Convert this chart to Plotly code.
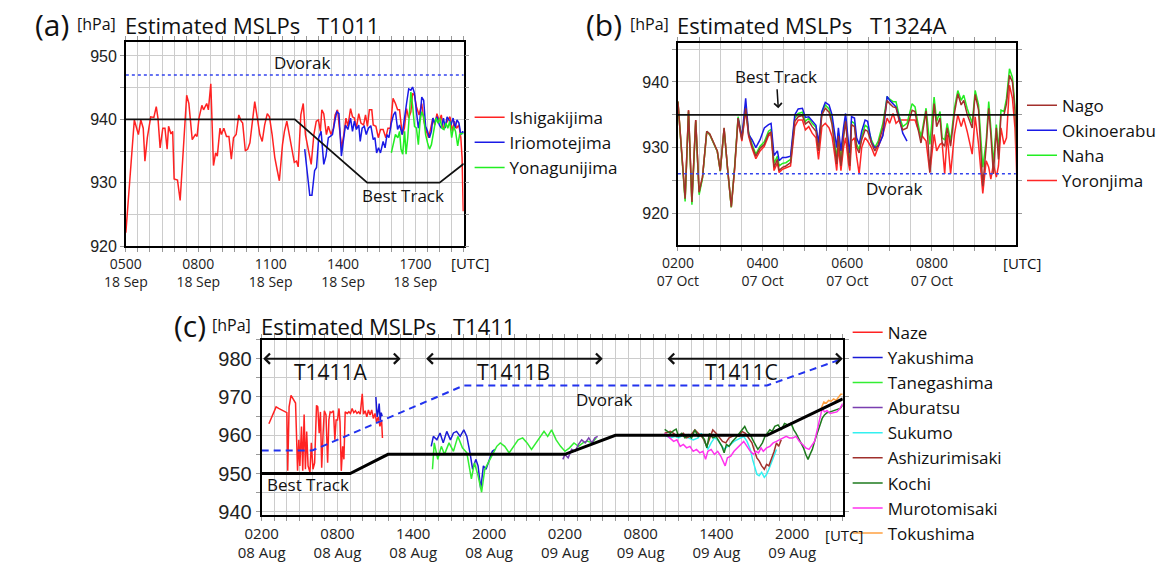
import pandas as pd
import plotly.graph_objects as go

W, H = 1164, 570
A_BASE = "2010-09-18 00:00"   # hours of day, 18 Sep
B_BASE = "2013-10-07 00:00"   # hours of day, 07 Oct
C_BASE = "2014-08-08 02:00"   # hours since 0200 08 Aug

# ---------------- (a) T1011 ----------------
a_ishigaki_h = [5.00,5.18,5.35,5.52,5.62,5.72,5.79,5.89,6.03,6.16,6.26,6.33,6.42,6.53,6.62,6.71,6.77,6.87,6.94,7.00,
                7.14,7.25,7.38,7.52,7.61,7.75,7.88,7.95,8.03,8.15,8.22,8.35,8.42,8.52,8.63,8.72,8.79,8.90,8.96,9.06,
                9.17,9.27,9.37,9.46,9.57,9.68,9.78,9.84,9.95,10.05,10.14,10.25,10.34,10.45,10.55,10.65,10.75,10.86,10.95,11.06,
                11.17,11.26,11.36,11.49,11.57,11.67,11.76,11.87,11.98,12.07,12.14,12.25,12.35,12.44,12.55,12.68,12.79,12.89,12.98,13.06,
                13.12,13.20,13.31,13.39,13.50,13.60,13.67,13.77,13.85,13.94,14.04,14.12,14.20,14.31,14.39,14.47,14.55,14.65,14.74,14.85,
                14.93,15.01,15.09,15.19,15.25,15.36,15.46,15.55,15.66,15.77,15.86,15.96,16.07,16.17,16.26,16.34,16.45,16.54,16.63,16.72,
                16.81,16.88,16.96,17.04,17.15,17.26,17.35,17.45,17.55,17.64,17.72,17.80,17.89,17.99,18.07,18.16,18.26,18.34,18.43,18.53,
                18.61,18.70,18.80,18.88,18.93,18.98]
a_ishigaki_v = [922.1,931.9,939.9,937.6,939.9,938.6,933.4,937.1,940.4,940.3,942.0,940.2,935.5,938.6,938.6,935.3,938.9,937.7,938.1,930.6,
                930.4,927.2,935.5,943.8,942.5,936.8,937.6,937.3,940.2,942.2,941.5,942.5,941.5,945.6,932.7,934.7,934.2,938.6,937.6,938.6,
                937.3,937.3,933.7,937.1,937.6,940.7,939.7,939.4,935.0,935.3,936.3,939.7,942.8,940.2,937.6,936.5,939.1,940.9,940.4,937.6,
                934.0,932.2,930.3,936.0,938.1,939.7,937.8,935.5,933.2,933.4,932.5,940.7,942.5,937.6,935.3,932.9,937.6,939.7,939.9,938.1,
                941.5,940.9,937.6,938.9,937.6,938.6,940.7,941.5,938.6,935.5,937.8,940.2,938.9,941.7,940.4,940.2,938.6,940.9,939.4,939.1,
                940.7,938.9,941.5,941.5,939.1,938.9,937.1,938.4,938.4,937.1,938.6,938.6,943.3,942.5,941.5,941.5,937.6,938.6,941.7,940.2,
                941.2,944.1,943.8,942.0,940.7,942.5,939.7,938.1,937.1,938.6,940.2,939.1,940.9,939.7,940.7,938.4,939.4,939.9,940.4,938.1,
                939.7,938.6,939.1,937.1,934.0,925.5]
a_iriomote_h = [12.41,12.52,12.62,12.71,12.82,12.90,12.99,13.09,13.20,13.29,13.39,13.47,13.56,13.66,13.74,13.83,13.93,14.01,14.10,14.20,
                14.31,14.39,14.47,14.55,14.65,14.71,14.79,14.88,14.96,15.05,15.15,15.25,15.32,15.39,15.47,15.55,15.66,15.74,15.82,15.90,
                16.00,16.09,16.17,16.26,16.34,16.45,16.54,16.63,16.72,16.81,16.88,16.96,17.04,17.12,17.19,17.26,17.34,17.42,17.50,17.58,
                17.66,17.72,17.80,17.89,17.99,18.07,18.16,18.23,18.31,18.39,18.47,18.56,18.64,18.72,18.80,18.88,18.96,18.99]
a_iriomote_v = [935.3,930.9,928.0,928.0,931.9,932.4,937.1,938.1,932.9,934.2,937.1,937.3,937.6,939.7,941.2,940.9,934.2,936.5,939.1,938.4,
                940.2,938.1,939.7,938.4,939.1,936.5,938.6,938.9,937.6,938.6,939.0,936.8,937.1,934.7,935.5,934.7,936.5,935.5,937.6,937.1,
                939.4,940.7,941.2,938.4,939.1,937.6,940.4,942.5,944.8,944.6,945.1,944.1,941.2,938.6,940.2,943.5,943.0,938.9,938.1,937.1,
                938.1,940.2,939.4,940.4,939.1,938.6,940.2,938.6,940.4,939.9,939.1,940.2,938.6,939.9,939.4,937.6,938.1,937.8]
a_yonaguni_h = [16.00,16.09,16.17,16.27,16.34,16.40,16.47,16.55,16.61,16.68,16.74,16.81,16.88,16.96,17.04,17.12,17.19,17.26,17.34,17.42,
                17.50,17.58,17.66,17.76,17.85,17.93,18.01,18.10,18.18,18.26,18.34,18.42,18.50,18.58,18.66,18.75,18.83,18.91,18.99]
a_yonaguni_v = [934.7,936.5,937.6,937.1,938.1,935.3,934.5,938.1,934.5,937.1,941.2,944.3,942.2,938.9,938.6,936.0,939.7,941.2,940.4,937.6,
                936.3,935.3,936.0,938.6,940.2,939.4,940.2,938.6,938.4,939.4,938.6,939.7,937.1,938.9,938.1,935.8,937.6,937.8,937.7]
a_best_h = [5, 12, 15, 18, 19]
a_best_v = [940, 940, 930, 930, 933]
a_dvorak_h = [5, 19]
a_dvorak_v = [947, 947]

# ---------------- (b) T1324A ----------------
b_hours = [2.00,2.17,2.25,2.33,2.42,2.50,2.58,2.68,2.75,2.85,2.93,3.00,3.09,3.17,3.26,3.34,3.42,3.51,3.60,3.67,
           3.75,3.84,3.94,4.04,4.14,4.20,4.27,4.35,4.39,4.47,4.55,4.66,4.76,4.84,4.94,5.01,5.09,5.17,5.26,5.32,
           5.40,5.48,5.57,5.64,5.70,5.75,5.79,5.85,5.91,5.96,6.03,6.06,6.10,6.17,6.22,6.28,6.34,6.42,6.48,6.57,
           6.65,6.73,6.84,6.94,7.00,7.08,7.15,7.23,7.31,7.41,7.53,7.60,7.66,7.74,7.86,7.95,8.05,8.11,8.19,8.24,
           8.30,8.36,8.44,8.53,8.61,8.69,8.75,8.83,8.95,9.02,9.10,9.20,9.28,9.34,9.39,9.45,9.52,9.57,9.63,9.70,
           9.76,9.83,9.90,9.96,10.00]
b_nago = [937.0,922.2,935.7,921.7,934.2,923.2,925.5,932.5,932.1,930.7,929.5,926.5,933.0,927.0,921.0,927.0,934.5,931.2,936.0,932.0,
          930.2,928.7,929.9,930.5,932.1,932.4,927.0,928.2,926.5,927.0,927.2,927.7,934.0,934.7,934.9,933.6,934.0,933.2,932.5,929.5,
          935.0,936.0,935.4,933.5,930.5,927.5,931.8,927.2,931.5,934.0,928.7,927.2,933.5,933.2,930.0,929.2,931.2,932.7,932.5,930.7,
          929.5,930.5,933.0,937.2,936.7,936.2,936.1,934.0,932.7,933.0,935.7,935.5,933.2,930.7,935.6,926.2,936.7,933.2,934.5,930.7,
          930.2,933.0,930.2,935.2,938.2,936.5,937.2,935.1,933.0,938.1,935.7,924.1,930.2,936.0,932.0,926.0,933.0,928.2,935.0,935.0,
          936.7,941.0,940.0,935.7,929.7]
b_naha = [937.0,921.8,935.5,921.3,934.0,922.8,925.3,932.5,932.0,930.6,929.4,926.4,932.9,926.9,920.9,927.2,934.7,931.5,936.3,932.3,
          930.5,929.0,930.2,930.9,932.5,932.8,927.6,928.7,927.2,927.6,927.7,928.2,934.5,935.2,935.4,934.0,934.5,933.7,933.1,930.0,
          935.4,936.5,935.9,934.0,931.0,928.2,932.2,928.0,932.0,934.5,929.5,928.0,934.0,933.7,930.5,929.7,931.7,933.4,933.1,931.2,
          930.0,931.0,933.7,937.7,937.4,937.0,937.0,934.7,933.2,933.7,936.7,936.2,934.0,931.5,936.0,930.5,937.7,934.0,935.5,931.5,
          931.2,933.7,931.0,936.0,938.7,937.2,938.0,936.0,933.7,938.7,936.5,927.0,931.0,937.0,933.0,927.5,933.5,929.5,935.7,935.5,
          937.5,942.0,940.7,936.5,930.5]
b_yoron = [937.0,922.2,935.7,921.7,934.2,923.2,925.5,932.3,932.0,930.6,929.4,926.4,932.9,926.9,920.9,926.8,934.3,931.0,935.8,931.7,
           929.9,928.3,929.5,930.2,931.8,932.1,926.5,927.7,926.2,926.7,926.9,927.2,933.2,934.2,934.2,932.7,933.2,932.2,931.5,928.2,
           933.2,933.7,933.0,931.7,929.0,926.5,930.0,926.5,930.0,931.5,927.5,926.5,931.0,931.5,928.7,926.0,930.0,931.5,931.0,930.0,
           928.7,930.0,932.0,934.5,933.7,935.2,933.7,934.2,934.2,934.2,934.2,934.2,933.0,932.0,931.0,926.2,932.0,929.5,930.5,930.7,
           926.0,932.0,926.0,932.0,935.0,933.2,934.5,932.5,929.0,934.7,930.5,923.0,928.0,927.0,925.2,927.5,925.5,927.2,933.0,930.5,
           931.5,939.5,937.5,933.0,926.0]
b_okino_start, b_okino_end = 16, 70   # Okinoerabu reported 0325-0725 only
b_okino = [934.5,931.5,937.5,932.0,931.2,930.0,931.2,933.0,933.5,933.7,
           928.8,929.5,928.0,928.5,928.5,928.7,935.0,935.9,936.0,934.6,
           934.7,934.0,933.4,930.7,935.5,936.9,936.5,935.0,932.0,930.0,
           933.0,929.5,933.0,935.2,930.5,929.2,934.7,934.5,931.5,930.5,
           932.5,934.2,934.0,930.8,930.0,930.2,931.8,937.8,937.2,936.7,
           936.2,934.4,932.2,931.0]
b_best_h = [2, 10]
b_best_v = [935, 935]
b_dvorak_h = [2, 10]
b_dvorak_v = [926, 926]

# ---------------- (c) T1411 ----------------
c_naze_h = [0.57,0.83,0.96,1.14,1.34,1.73,1.99,2.06,2.17,2.32,2.50,2.68,2.84,2.94,3.02,3.15,3.25,3.36,3.46,3.56,
            3.67,3.82,3.93,4.06,4.19,4.34,4.44,4.55,4.65,4.75,4.86,4.96,5.09,5.22,5.32,5.42,5.53,5.68,5.79,5.89,
            6.00,6.12,6.20,6.30,6.41,6.51,6.61,6.77,6.90,7.03,7.16,7.29,7.42,7.54,7.67,7.80,7.96,8.06,8.19,8.32,
            8.45,8.58,8.71,8.84,8.97,9.10,9.23,9.36,9.49,9.56]
c_naze_v = [963.0,964.8,965.9,967.4,967.0,966.4,965.9,950.7,967.4,970.4,969.5,968.4,950.7,958.8,952.0,962.3,950.7,965.4,951.1,961.0,
            952.0,950.3,958.0,951.1,952.8,967.8,967.4,960.5,966.1,951.5,960.5,966.4,965.3,952.8,964.0,966.1,965.9,966.4,958.8,964.0,
            964.0,967.0,963.5,950.7,957.1,953.7,966.1,965.7,966.1,965.7,967.0,965.9,966.4,965.7,966.1,965.5,970.8,965.5,966.4,964.8,
            966.6,965.3,966.6,964.4,965.7,963.5,964.8,962.3,964.0,959.3]
c_yaku_h = [9.04,9.14,9.22,9.30,9.38,9.46,9.54,None,
            13.42,13.59,13.87,14.12,14.37,14.65,14.94,15.18,15.43,15.71,16.00,16.24,16.49,16.70,16.95,17.13,17.34,17.55,
            17.76,18.01,18.26,18.47]
c_yaku_v = [970.0,964.8,966.1,968.3,964.0,965.9,965.0,None,
            957.1,959.7,958.8,960.6,958.0,961.0,958.8,960.6,961.0,959.7,961.4,959.7,955.4,951.1,953.7,952.0,946.0,952.0,
            951.1,953.7,955.8,956.3]
c_tane_h = [13.52,13.66,13.94,14.22,14.47,14.83,15.18,15.53,15.89,16.24,16.60,16.84,17.13,17.41,17.66,17.94,18.26,18.61,18.89,19.24,
            19.59,19.95,20.30,20.66,21.01,21.36,21.72,22.07,22.35,22.64,22.95,23.31,23.66,24.01,24.37,24.72,25.08,25.43,25.78,26.14,26.49]
c_tane_v = [951.1,958.0,953.7,957.1,955.0,958.0,955.8,959.7,956.7,955.4,948.6,952.8,949.4,945.1,951.1,952.8,955.0,957.1,958.0,957.1,
            955.4,957.1,958.8,959.3,958.0,956.3,958.0,959.7,961.0,959.7,961.4,958.8,957.1,955.8,956.7,958.0,957.1,958.0,958.5,958.0,959.3]
c_abura_h = [23.84,24.01,24.26,24.54,24.82,25.08,25.33,25.61,25.89,26.14,26.38,26.60]
c_abura_v = [953.7,955.0,954.1,956.3,955.8,957.6,958.8,958.0,959.3,958.0,959.3,959.7]
c_sukumo_h = [31.90,32.35,32.74,33.00,33.38,33.77,34.16,34.55,34.80,35.06,35.32,35.58,35.84,36.10,36.35,36.61,36.87,37.13,37.39,37.65,
              37.91,38.16,38.42,38.68,38.86,39.02,39.20,39.38,39.58,39.79,39.97,40.15,40.36,40.57,40.75]
c_sukumo_v = [960.0,959.3,959.7,959.3,960.1,959.3,958.8,959.3,960.5,958.4,956.3,958.0,959.3,958.8,957.6,956.3,957.1,957.6,958.4,958.8,
              959.3,959.7,958.4,956.3,953.7,952.0,949.8,949.4,950.3,949.0,949.8,951.1,952.8,954.5,956.3]
c_ashizuri_h = [31.90,32.35,32.61,32.87,33.13,33.38,33.64,33.90,34.29,34.55,34.93,35.24,35.50,35.71,35.97,36.23,36.48,36.74,37.00,37.26,
                37.52,37.78,38.03,38.29,38.55,38.81,39.02,39.20,39.38,39.58,39.79,39.97,40.15,40.36,40.57,40.75,40.93,41.13]
c_ashizuri_v = [960.5,961.0,960.5,959.7,960.1,960.5,959.3,959.7,961.4,960.5,959.3,957.1,959.3,961.4,960.5,959.3,958.4,958.0,959.3,959.7,
                960.1,959.7,961.0,960.5,959.3,958.0,955.8,954.1,953.3,952.0,951.1,952.4,952.0,953.7,955.8,958.0,957.1,958.8]
c_kochi_h = [31.90,32.35,32.61,32.81,33.00,33.25,33.51,33.77,34.03,34.29,34.55,34.80,35.06,35.24,35.45,35.71,35.97,36.23,36.43,36.61,
             36.79,37.00,37.26,37.52,37.78,38.03,38.24,38.42,38.68,38.94,39.12,39.28,39.46,39.64,39.84,40.05,40.23,40.41,40.62,40.88,
             41.13,41.39,41.65,41.91,42.12,42.30,42.48,42.69,42.89,43.07,43.25,43.41,43.59,43.77,43.98,44.18,44.37,44.55,44.75,45.01,
             45.27,45.53,45.79,45.99]
c_kochi_v = [961.5,960.5,961.2,961.6,959.7,960.5,959.3,960.1,959.3,961.4,959.7,960.1,958.8,956.7,960.5,959.3,959.7,958.0,957.1,955.4,
             957.6,957.1,958.4,959.3,960.5,961.4,962.3,961.0,960.1,958.4,957.1,956.3,957.1,958.0,959.7,960.5,961.4,961.0,962.3,962.7,
             961.4,963.1,962.7,963.1,961.4,960.5,959.3,957.6,956.7,955.0,953.7,955.0,956.3,958.4,960.5,963.1,964.4,965.3,965.9,966.1,
             966.4,966.8,967.0,967.8]
c_muroto_h = [31.90,32.35,32.61,32.87,33.13,33.38,33.64,33.90,34.16,34.42,34.68,34.93,35.14,35.32,35.58,35.84,36.10,36.35,36.54,36.69,
              36.87,37.13,37.39,37.65,37.91,38.16,38.42,38.68,38.94,39.12,39.33,39.53,39.71,39.97,40.23,40.49,40.75,41.00,41.26,41.52,
              41.78,42.04,42.30,42.56,42.82,43.07,43.33,43.59,43.77,43.98,44.18,44.37,44.55,44.75,45.01,45.27,45.53,45.79,45.99]
c_muroto_v = [960.5,959.3,958.4,958.8,957.1,957.6,956.7,957.1,955.8,956.3,955.4,955.8,953.7,955.8,956.3,955.0,955.8,954.5,952.8,952.0,
              954.1,954.5,955.8,956.7,957.6,958.4,957.1,955.8,955.0,955.8,955.4,956.7,955.8,956.7,957.1,958.0,958.4,958.8,959.3,959.7,
              959.3,959.3,959.7,958.4,957.6,956.7,956.3,957.6,958.4,961.4,964.8,967.0,966.1,966.4,965.7,965.9,966.1,967.0,968.3]
c_toku_h = [44.29,44.50,44.70,44.88,45.08,45.27,45.47,45.66,45.84,45.99]
c_toku_v = [967.0,968.7,968.4,969.1,968.9,969.5,969.1,970.0,970.7,970.7]
c_best_h = [0, 7, 10, 24, 28, 40, 46]
c_best_v = [950, 950, 955, 955, 960, 960, 969.5]
c_dvorak_h = [0, 4, 16, 40, 46]
c_dvorak_v = [956, 956, 973, 973, 980]
c_periods = [("T1411A", 0, 11), ("T1411B", 12.9, 27), ("T1411C", 32, 46)]


def T(base, hours):
    b = pd.Timestamp(base)
    return [None if h is None else (b + pd.Timedelta(hours=h)).strftime("%Y-%m-%d %H:%M:%S") for h in hours]


def t1(base, h):
    return T(base, [h])[0]


def px(x):
    return x / W


def py(y):
    return 1 - y / H


FONT = "Open Sans"
fig = go.Figure()


def add_line(base, hs, vs, name, color, xa, ya, legend=None, width=1.5, rank=None, dash=None):
    fig.add_trace(go.Scatter(
        x=T(base, hs), y=vs, mode="lines", name=name,
        line=dict(color=color, width=width, dash=dash),
        xaxis=xa, yaxis=ya, showlegend=legend is not None,
        legend=legend if legend else "legend", legendrank=rank if rank else 1000,
        hoverinfo="skip", connectgaps=False))


# (a)
add_line(A_BASE, a_ishigaki_h, a_ishigaki_v, "Ishigakijima", "#ff2222", "x", "y", "legend", rank=1)
add_line(A_BASE, a_iriomote_h, a_iriomote_v, "Iriomotejima", "#1a1ae6", "x", "y", "legend", rank=2)
add_line(A_BASE, a_yonaguni_h, a_yonaguni_v, "Yonagunijima", "#22ee22", "x", "y", "legend", rank=3)
add_line(A_BASE, a_dvorak_h, a_dvorak_v, "Dvorak", "#3344ee", "x", "y", None, width=1.5, dash="dot")
add_line(A_BASE, a_best_h, a_best_v, "Best Track", "#111111", "x", "y", None, width=1.8)

# (b)
bh_okino = b_hours[b_okino_start:b_okino_end]
add_line(B_BASE, b_hours, b_yoron, "Yoronjima", "#ff2626", "x2", "y2", "legend2", rank=4)
add_line(B_BASE, b_hours, b_naha, "Naha", "#22ee22", "x2", "y2", "legend2", rank=3)
add_line(B_BASE, bh_okino, b_okino, "Okinoerabu", "#1a1ae6", "x2", "y2", "legend2", rank=2)
add_line(B_BASE, b_hours, b_nago, "Nago", "#a3302c", "x2", "y2", "legend2", rank=1)
add_line(B_BASE, b_dvorak_h, b_dvorak_v, "Dvorak", "#3344ee", "x2", "y2", None, width=1.5, dash="dot")
add_line(B_BASE, b_best_h, b_best_v, "Best Track", "#111111", "x2", "y2", None, width=1.8)

# (c)
c_series = [
    ("Naze", c_naze_h, c_naze_v, "#ff2222"),
    ("Yakushima", c_yaku_h, c_yaku_v, "#1a1ad6"),
    ("Tanegashima", c_tane_h, c_tane_v, "#33ee33"),
    ("Aburatsu", c_abura_h, c_abura_v, "#7a3fb0"),
    ("Sukumo", c_sukumo_h, c_sukumo_v, "#33f0f0"),
    ("Ashizurimisaki", c_ashizuri_h, c_ashizuri_v, "#a0302c"),
    ("Kochi", c_kochi_h, c_kochi_v, "#1e7a1e"),
    ("Murotomisaki", c_muroto_h, c_muroto_v, "#ff33ee"),
    ("Tokushima", c_toku_h, c_toku_v, "#ffa040"),
]
for i, (nm, hs, vs, col) in enumerate(c_series):
    add_line(C_BASE, hs, vs, nm, col, "x3", "y3", "legend3", rank=i + 1)
add_line(C_BASE, c_dvorak_h, c_dvorak_v, "Dvorak", "#2233ee", "x3", "y3", None, width=2, dash="7px,5px")
add_line(C_BASE, c_best_h, c_best_v, "Best Track", "#000000", "x3", "y3", None, width=3)

GRID = "#cccccc"
TICKC = "#999999"


def xax(domain, anchor, base, h0, h1, dtick_h, minor_h, fs):
    return dict(domain=domain, anchor=anchor, type="date",
                range=[t1(base, h0), t1(base, h1)], tick0=t1(base, h0), dtick=dtick_h * 3600000,
                tickformat="%H%M<br>%d %b", ticks="outside", ticklen=4, tickcolor=TICKC,
                showgrid=True, gridcolor=GRID, gridwidth=1,
                minor=dict(dtick=minor_h * 3600000, tick0=t1(base, h0), showgrid=True, gridcolor=GRID,
                           ticks="outside", ticklen=4, tickcolor=TICKC),
                showline=True, linecolor="#000000", linewidth=1.5, mirror="ticks",
                tickfont=dict(family=FONT, size=fs, color="#222222"), zeroline=False, fixedrange=True)


def yax(domain, anchor, r, fs, lw=1.5):
    return dict(domain=domain, anchor=anchor, range=r, dtick=10, tick0=0,
                ticks="outside", ticklen=4, tickcolor=TICKC,
                showgrid=True, gridcolor=GRID,
                minor=dict(dtick=5, showgrid=True, gridcolor=GRID, ticks="outside", ticklen=4, tickcolor=TICKC),
                showline=True, linecolor="#000000", linewidth=lw, mirror="ticks",
                tickfont=dict(family="Liberation Sans", size=fs, color="#222222"), zeroline=False, fixedrange=True)


ann = []


def txt(x, y, s, size, xanchor="left", xref="paper", yref="paper"):
    ann.append(dict(x=x, y=y, xref=xref, yref=yref, text=s, showarrow=False, xanchor=xanchor,
                    yanchor="middle", font=dict(family=FONT, size=size, color="#111111")))


# panel titles
for lab, x0, xh, xe, xt, ttl, yy in [("(a)", 9, 52, 101, 297, "T1011", 25),
                                       ("(b)", 572, 617, 665, 862, "T1324A", 25),
                                       ("(c)", 151, 190, 240, 436, "T1411", 331)]:
    txt(px(x0), py(yy), lab, 30)
    txt(px(xh), py(yy - 1), "[hPa]", 16)
    txt(px(xe), py(yy), "Estimated MSLPs", 22)
    txt(px(xt), py(yy), ttl, 22)

# [UTC] labels
txt(px(455.7), py(267.3), "[UTC]", 15, "center")
txt(px(1019.3), py(267.3), "[UTC]", 15, "center")
txt(px(837.3), py(543.3), "[UTC]", 15, "center")

# in-plot labels
txt(t1(A_BASE, 12.28), 949.0, "Dvorak", 17, "center", "x", "y")
txt(t1(A_BASE, 16.5), 927.9, "Best Track", 17, "center", "x", "y")
txt(t1(B_BASE, 7.1), 923.75, "Dvorak", 17, "center", "x2", "y2")
txt(t1(C_BASE, 27.08), 969.3, "Dvorak", 17, "center", "x3", "y3")
txt(t1(C_BASE, 3.67), 947.2, "Best Track", 17, "center", "x3", "y3")
for nm, h0, h1 in c_periods:
    hc = (h0 + h1) / 2 if nm != "T1411C" else 38
    txt(t1(C_BASE, hc), 976.4, nm, 21, "center", "x3", "y3")
    ann.append(dict(x=t1(C_BASE, h1), y=980, ax=t1(C_BASE, h0), ay=980,
                    xref="x3", yref="y3", axref="x3", ayref="y3", text="", showarrow=True,
                    arrowhead=4, startarrowhead=4, arrowside="end+start", arrowwidth=2,
                    arrowsize=1, startarrowsize=1, arrowcolor="#111111", standoff=0, startstandoff=0))

ann.append(dict(x=t1(B_BASE, 4.37), y=936.0, xref="x2", yref="y2", text="Best Track", showarrow=True,
                ax=-2, ay=-32, arrowhead=4, arrowwidth=1.5, arrowsize=1, arrowcolor="#111111",
                font=dict(family=FONT, size=17, color="#111111")))

leg_common = dict(xanchor="left", yanchor="top", bgcolor="rgba(0,0,0,0)", borderwidth=0,
                  font=dict(family=FONT, size=17, color="#111111"), tracegroupgap=0, itemwidth=30,
                  traceorder="normal")

fig.update_layout(
    width=W, height=H, autosize=False, margin=dict(l=0, r=0, t=0, b=0),
    paper_bgcolor="white", plot_bgcolor="white", showlegend=True,
    xaxis=xax([px(104), px(449)], "y", A_BASE, 5, 19, 3, 0.5, 14),
    yaxis=yax([py(250), py(42.7)], "x", [920, 952.2], 16),
    xaxis2=xax([px(667.7), px(1012.7)], "y2", B_BASE, 2, 9.98, 2, 0.5, 14),
    yaxis2=yax([py(249.3), py(43.3)], "x2", [915.1, 946.0], 16),
    xaxis3=xax([px(242.7), px(836)], "y3", C_BASE, 0, 46, 6, 1, 15),
    yaxis3=yax([py(523.3), py(345)], "x3", [939.15, 985.0], 20, lw=2),
    legend=dict(x=px(455), y=py(118.3 - 17), **leg_common),
    legend2=dict(x=px(1019), y=py(105 - 16), **leg_common),
    legend3=dict(x=px(841), y=py(333.3 - 13.5), **leg_common),
    annotations=ann,
)

fig.write_html("out.html")
